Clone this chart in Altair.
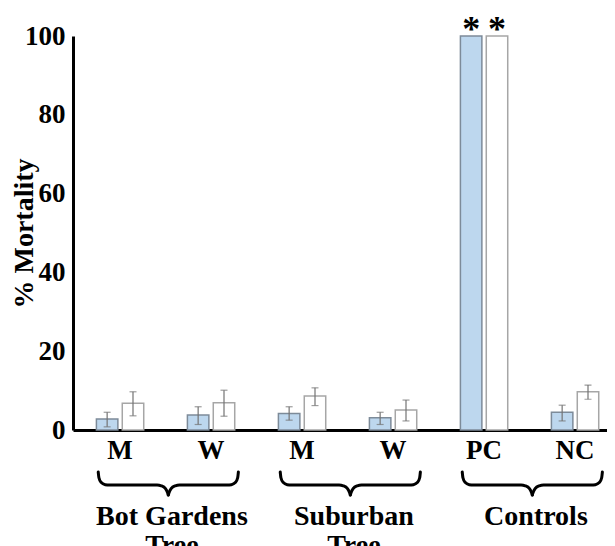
import altair as alt
import pandas as pd

# ---- data ----
categories = ["BG-M", "BG-W", "SU-M", "SU-W", "PC", "NC"]
series = ["Series A", "Series B"]
series_a = [2.8, 3.8, 4.2, 3.1, 100.0, 4.5]
series_a_lo = [0.8, 1.4, 2.5, 1.4, None, 2.3]
series_a_hi = [4.5, 5.9, 5.9, 4.5, None, 6.3]
series_b = [6.8, 6.9, 8.6, 5.1, 100.0, 9.7]
series_b_lo = [3.6, 3.5, 6.2, 2.3, None, 7.8]
series_b_hi = [9.7, 10.1, 10.7, 7.6, None, 11.4]
groups = ["Bot Gardens\nTree", "Suburban\nTree", "Controls"]
group_members = [["BG-M", "BG-W"], ["SU-M", "SU-W"], ["PC", "NC"]]
starred = ["PC"]
y_ticks = [0, 20, 40, 60, 80, 100]

# ---- layout ----
W, H = 542, 394
PI, PO, ALIGN = 0.48, 0.218, 0.59
FONT = "Liberation Serif"

rows = []
for i, c in enumerate(categories):
    for s, v, lo, hi in ((series[0], series_a, series_a_lo, series_a_hi),
                         (series[1], series_b, series_b_lo, series_b_hi)):
        rows.append({"cat": c, "series": s, "value": v[i], "lo": lo[i], "hi": hi[i],
                     "star": "*" if c in starred else ""})
df = pd.DataFrame(rows)
df_err = df.dropna(subset=["lo"])
df_star = df[df["star"] != ""]

x_scale = alt.Scale(domain=categories, paddingInner=PI, paddingOuter=PO, align=ALIGN)
xo_scale = alt.Scale(domain=series, paddingInner=0.17, paddingOuter=0)
y_scale = alt.Scale(domain=[0, 100], nice=False)

x_axis = alt.Axis(labelExpr="slice(datum.value, indexof(datum.value, '-') + 1)",
                  labelAngle=0, ticks=False, tickSize=0, labelPadding=7, title=None,
                  domainWidth=3, domainColor="black", labelFont=FONT,
                  labelFontWeight="bold", labelFontSize=27, labelColor="black")
y_axis = alt.Axis(values=y_ticks, title="% Mortality", grid=False, ticks=False,
                  tickSize=0, labelPadding=8, domainWidth=3, domainColor="black",
                  labelFont=FONT, labelFontWeight="bold", labelFontSize=27,
                  labelColor="black", titleFont=FONT, titleFontWeight="bold",
                  titleFontSize=28, titleColor="black", titleAngle=270,
                  titleX=-49, titleY=H / 2, titleAlign="center",
                  titleBaseline="middle")


def X():
    return alt.X("cat:N", scale=x_scale, sort=categories, title=None, axis=x_axis)


def XO():
    return alt.XOffset("series:N", scale=xo_scale, sort=series)


def Y(field):
    return alt.Y(f"{field}:Q", scale=y_scale, title="% Mortality", axis=y_axis)


bars = alt.Chart(df).mark_bar(strokeWidth=1.5).encode(
    x=X(), xOffset=XO(), y=Y("value"),
    color=alt.Color("series:N", scale=alt.Scale(domain=series, range=["#bdd7ee", "#ffffff"]),
                    legend=None),
    stroke=alt.Stroke("series:N", scale=alt.Scale(domain=series, range=["#7d8b99", "#a6a6a6"]),
                      legend=None),
)
err = alt.Chart(df_err).mark_rule(color="#737373", strokeWidth=1.2).encode(
    x=X(), xOffset=XO(), y=Y("lo"), y2="hi:Q")
cap_lo = alt.Chart(df_err).mark_tick(color="#737373", thickness=1.2, size=7,
                                     orient="horizontal").encode(
    x=X(), xOffset=XO(), y=Y("lo"))
cap_hi = alt.Chart(df_err).mark_tick(color="#737373", thickness=1.2, size=7,
                                     orient="horizontal").encode(
    x=X(), xOffset=XO(), y=Y("hi"))
stars = alt.Chart(df_star).mark_text(font=FONT, fontWeight="bold", fontSize=36,
                                     baseline="alphabetic", dy=5, color="black").encode(
    x=X(), xOffset=XO(), y=Y("value"), text="star:N")

main = alt.layer(bars, err, cap_lo, cap_hi, stars)

# ---- braces below the axis, placed from the same band-scale model ----
n = len(categories)
step = W / (n - PI + 2 * PO)
start = (W - step * (n - PI)) * ALIGN
bw = step * (1 - PI)
half_shape = [(0.0, 0.0), (0.01, 0.25), (0.04, 0.45), (0.10, 0.55), (0.16, 0.565),
              (0.84, 0.565), (0.90, 0.60), (0.96, 0.72), (0.99, 0.90), (1.0, 1.0)]
brace_rows, label_rows = [], []
for g, (name, members) in enumerate(zip(groups, group_members)):
    i0 = categories.index(members[0])
    i1 = categories.index(members[-1])
    L = start + step * i0 + 0.02 * step
    R = start + step * i1 + bw + 0.04 * step
    C = (L + R) / 2
    h = C - L
    for k, (du, v) in enumerate(half_shape):
        brace_rows.append({"g": f"{g}L", "o": k, "bx": L + du * h, "by": v})
        brace_rows.append({"g": f"{g}R", "o": k, "bx": R - du * h, "by": v})
    label_rows.append({"label": name, "bx": C + 0.04 * step})
df_brace = pd.DataFrame(brace_rows)
df_lab = pd.DataFrame(label_rows)

bx_scale = alt.Scale(domain=[0, W], range=[0, W], nice=False, zero=False)
braces = alt.Chart(df_brace).mark_line(color="black", strokeWidth=3, interpolate="monotone",
                                       strokeCap="round").encode(
    x=alt.X("bx:Q", scale=bx_scale, axis=None),
    y=alt.Y("by:Q", scale=alt.Scale(domain=[0, 1], range=[H + 42, H + 65], nice=False, zero=False),
            axis=None),
    detail="g:N", order="o:Q")
glabels = alt.Chart(df_lab).mark_text(font=FONT, fontWeight="bold", fontSize=28, color="black",
                                      baseline="alphabetic", lineBreak="\n", lineHeight=29).encode(
    x=alt.X("bx:Q", scale=bx_scale, axis=None),
    y=alt.value(H + 95), text="label:N")
deco = alt.layer(braces, glabels)

chart = alt.layer(main, deco).resolve_scale(x="independent", y="independent").properties(
    width=W, height=H,
    padding={"left": 65, "top": 28, "right": -8, "bottom": 116},
    autosize=alt.AutoSizeParams(type="none"),
    background="white",
).configure_view(stroke=None)

chart.save("out.html", embed_options={"renderer": "svg", "actions": False})
